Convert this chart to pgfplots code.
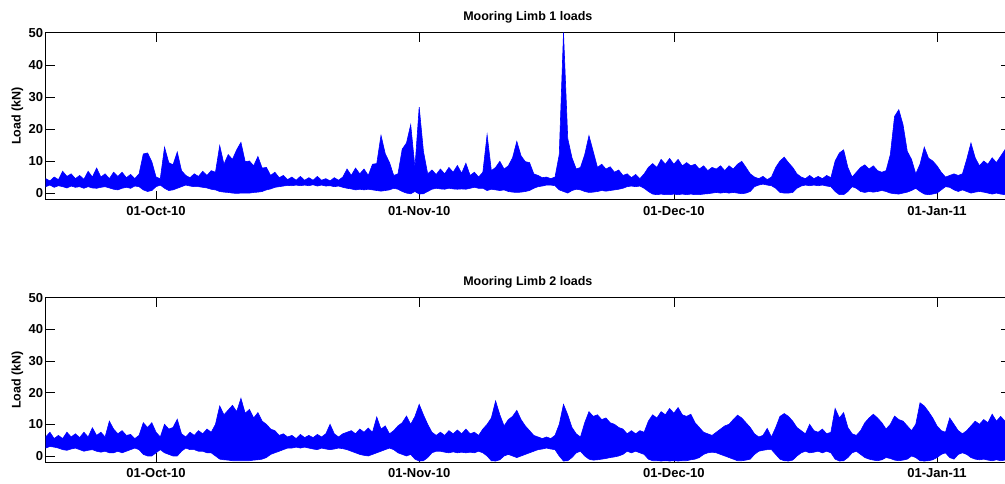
\documentclass[border=0pt]{standalone}
\usepackage{fontspec}
\setmainfont{Liberation Sans}
\usepackage{pgfplots}
\pgfplotsset{compat=1.18}
\usepackage{pgfplotstable}
\usepgfplotslibrary{fillbetween}

\definecolor{matblue}{RGB}{0,0,255}

% days from 01-Oct-10, lower and upper load envelope (kN), limb 1
\pgfplotstableread{
t lo hi
-13 2.0 4.5
-12.5 2.5 3.8
-12 1.8 5.0
-11.5 2.3 4.2
-11 2.0 6.8
-10.5 1.6 5.2
-10 2.2 6.0
-9.5 1.8 4.5
-9 2.0 5.5
-8.5 1.5 4.3
-8 2.0 6.8
-7.5 1.6 5.0
-7 1.5 7.8
-6.5 1.8 5.0
-6 2.0 6.0
-5.5 1.6 4.5
-5 1.2 6.5
-4.5 1.0 5.2
-4 1.5 6.5
-3.5 1.8 4.8
-3 1.5 5.8
-2.5 2.2 4.5
-2 2.0 6.0
-1.5 1.0 12.2
-1 0.5 12.5
-0.5 0.8 9.8
0 2.0 5.0
0.5 2.5 4.5
1 1.5 14.3
1.5 0.8 9.5
2 1.0 8.8
2.5 1.5 12.8
3 2.0 7.0
3.5 2.5 5.5
4 2.2 4.8
4.5 2.0 6.0
5 2.0 5.2
5.5 1.8 6.8
6 1.6 5.5
6.5 1.2 7.0
7 1.0 6.5
7.5 0.5 14.8
8 0.3 9.0
8.5 0.2 12.0
9 0.0 10.5
9.5 -0.1 13.5
10 0.0 15.8
10.5 0.0 9.8
11 0.0 10.0
11.5 0.2 8.5
12 0.3 11.4
12.5 0.5 7.8
13 1.0 8.0
13.5 1.3 5.5
14 1.8 6.5
14.5 2.0 4.8
15 2.2 5.5
15.5 2.4 4.2
16 2.3 5.0
16.5 2.5 4.0
17 2.3 5.2
17.5 2.5 4.0
18 2.3 4.8
18.5 2.6 4.0
19 2.2 5.2
19.5 2.5 4.0
20 2.2 4.5
20.5 2.3 3.8
21 2.0 4.8
21.5 2.2 4.0
22 1.8 5.0
22.5 1.5 7.5
23 1.3 5.5
23.5 1.0 7.8
24 1.2 6.0
24.5 1.0 7.5
25 1.2 5.5
25.5 1.0 9.0
26 0.8 9.2
26.5 0.6 18.0
27 0.8 12.3
27.5 1.0 9.5
28 1.5 5.5
28.5 1.2 6.0
29 0.5 13.7
29.5 0.0 15.6
30 -0.2 21.3
30.5 0.5 8.0
31 -0.3 26.8
31.5 -0.2 13.0
32 0.5 6.0
32.5 1.2 7.2
33 1.5 5.8
33.5 1.3 7.5
34 1.2 6.0
34.5 1.5 8.0
35 1.3 6.5
35.5 1.2 8.6
36 1.3 6.2
36.5 1.2 9.3
37 1.5 5.5
37.5 1.8 6.5
38 1.5 5.0
38.5 1.5 6.5
39 0.8 18.2
39.5 1.2 7.0
40 1.0 8.0
40.5 0.8 9.9
41 1.0 7.5
41.5 0.5 8.5
42 0.3 11.0
42.5 0.2 16.1
43 0.3 11.6
43.5 0.5 9.8
44 0.8 9.5
44.5 1.5 6.0
45 2.0 5.5
45.5 2.2 4.8
46 2.5 5.0
46.5 2.5 4.5
47 2.3 5.0
47.5 1.0 12.0
48 0.5 50
48.5 0.0 17.0
49 0.8 11.0
49.5 1.2 7.5
50 1.0 8.0
50.5 0.5 12.0
51 0.2 17.9
51.5 0.3 13.0
52 0.5 8.0
52.5 0.8 9.0
53 0.6 7.5
53.5 0.8 8.2
54 1.0 6.5
54.5 1.2 7.2
55 1.5 5.5
55.5 2.0 6.0
56 2.2 4.8
56.5 2.0 5.8
57 2.2 4.5
57.5 1.5 6.0
58 0.5 8.0
58.5 -0.3 9.2
59 -0.5 8.0
59.5 -0.3 10.5
60 -0.5 9.0
60.5 -0.5 10.8
61 -0.3 9.0
61.5 -0.5 10.5
62 -0.3 8.5
62.5 -0.5 9.5
63 -0.3 8.5
63.5 -0.5 9.0
64 -0.5 7.5
64.5 -0.3 8.5
65 -0.2 7.0
65.5 0.0 8.0
66 0.2 7.5
66.5 0.0 8.5
67 0.2 7.0
67.5 0.0 8.5
68 0.2 7.5
68.5 0.0 9.0
69 -0.2 9.9
69.5 0.0 8.0
70 0.5 6.0
70.5 2.0 5.0
71 2.5 4.5
71.5 2.8 5.2
72 2.5 4.2
72.5 2.3 5.0
73 1.5 8.0
73.5 0.2 10.0
74 0.0 11.2
74.5 0.0 9.5
75 0.2 8.0
75.5 1.5 6.0
76 2.2 5.0
76.5 2.5 4.5
77 2.3 5.5
77.5 2.5 4.5
78 2.3 5.2
78.5 2.5 4.5
79 2.2 5.5
79.5 2.0 4.8
80 0.5 10.0
80.5 -0.5 12.5
81 -0.5 13.5
81.5 0.5 8.0
82 2.0 5.0
82.5 1.5 6.5
83 0.5 8.0
83.5 0.2 8.8
84 0.5 7.5
84.5 0.3 8.5
85 0.5 7.0
85.5 0.8 6.5
86 0.5 7.0
86.5 0.0 12.0
87 -0.2 23.9
87.5 -0.3 26.0
88 0.0 21.3
88.5 0.3 13.0
89 0.8 10.5
89.5 1.5 6.0
90 0.5 9.0
90.5 -0.3 14.3
91 -0.5 10.9
91.5 -0.3 10.0
92 0.0 8.5
92.5 1.0 6.5
93 2.0 5.0
93.5 1.8 5.5
94 1.0 6.0
94.5 0.5 5.5
95 1.0 6.0
95.5 0.5 10.5
96 0.0 15.6
96.5 0.3 11.0
97 0.5 8.5
97.5 0.3 10.0
98 0.0 9.0
98.5 -0.3 11.0
99 0.0 9.5
99.5 -0.3 11.5
100 -0.5 13.5
100.6 -0.3 10.0
}\limbA

% limb 2
\pgfplotstableread{
t lo hi
-13 2.5 6.0
-12.5 3.0 7.5
-12 2.8 5.5
-11.5 2.5 6.5
-11 2.0 5.5
-10.5 1.8 7.5
-10 2.2 6.0
-9.5 2.5 7.0
-9 2.0 5.8
-8.5 1.5 7.5
-8 1.8 6.0
-7.5 2.0 8.9
-7 1.5 6.5
-6.5 1.2 7.5
-6 1.5 6.0
-5.5 1.0 11.0
-5 1.0 8.5
-4.5 1.5 7.0
-4 1.0 8.0
-3.5 1.5 6.5
-3 2.0 6.8
-2.5 2.5 5.5
-2 2.0 6.5
-1.5 0.5 10.5
-1 0.0 9.0
-0.5 0.0 10.5
0 1.0 7.5
0.5 2.0 6.0
1 1.0 10.0
1.5 0.5 8.5
2 0.0 9.0
2.5 0.0 11.6
3 1.5 7.0
3.5 2.5 6.0
4 2.0 7.5
4.5 2.0 6.5
5 1.5 8.0
5.5 1.5 7.0
6 1.0 8.5
6.5 1.0 7.5
7 0.0 10.0
7.5 -1.0 15.8
8 -1.2 13.0
8.5 -1.3 14.5
9 -1.5 16.0
9.5 -1.5 14.0
10 -1.5 18.2
10.5 -1.5 13.5
11 -1.5 14.7
11.5 -1.3 12.0
12 -1.2 13.7
12.5 -1.0 11.0
13 -0.5 10.0
13.5 0.5 8.5
14 1.0 8.0
14.5 1.5 6.5
15 2.0 7.0
15.5 2.5 6.0
16 2.5 6.5
16.5 2.8 5.5
17 2.5 6.8
17.5 2.8 5.8
18 2.5 6.5
18.5 2.2 5.8
19 2.0 6.8
19.5 2.5 6.0
20 2.2 7.0
20.5 2.0 10.0
21 2.2 7.0
21.5 2.5 6.0
22 2.3 7.0
22.5 2.0 7.5
23 1.5 8.0
23.5 1.0 7.0
24 0.5 8.5
24.5 0.2 7.5
25 0.0 8.8
25.5 0.5 7.5
26 1.0 12.3
26.5 1.5 8.5
27 2.0 9.5
27.5 2.5 7.0
28 2.0 8.0
28.5 1.0 9.5
29 0.5 10.5
29.5 0.0 12.6
30 0.5 10.0
30.5 -1.0 12.5
31 -1.6 16.3
31.5 -1.5 13.0
32 -0.5 10.0
32.5 1.0 7.5
33 1.5 6.5
33.5 1.5 7.5
34 1.2 6.5
34.5 1.0 8.0
35 1.3 7.0
35.5 1.0 8.2
36 1.2 7.0
36.5 1.0 8.5
37 1.2 7.0
37.5 1.0 7.5
38 1.5 6.5
38.5 1.0 8.5
39 0.0 10.0
39.5 -1.5 12.0
40 -1.6 17.4
40.5 -1.2 13.0
41 0.0 9.5
41.5 0.5 11.5
42 0.0 12.5
42.5 -0.5 14.4
43 0.0 11.5
43.5 0.5 9.5
44 1.0 8.0
44.5 1.5 6.5
45 2.0 6.0
45.5 2.2 5.5
46 2.5 6.0
46.5 2.2 5.5
47 2.0 6.5
47.5 0.0 10.0
48 -1.6 16.3
48.5 -1.5 13.0
49 -0.5 9.0
49.5 1.0 7.0
50 1.5 6.0
50.5 0.0 10.5
51 -1.0 14.0
51.5 -1.3 12.5
52 -1.2 13.0
52.5 -1.0 11.5
53 -0.8 12.0
53.5 -0.5 10.5
54 -0.3 10.0
54.5 0.0 9.0
55 0.5 8.5
55.5 1.5 7.0
56 1.0 8.0
56.5 1.5 7.0
57 1.0 8.0
57.5 0.5 7.5
58 -1.0 11.0
58.5 -1.5 13.0
59 -1.5 12.0
59.5 -1.6 14.0
60 -1.5 13.0
60.5 -1.6 15.0
61 -1.5 13.5
61.5 -1.6 15.3
62 -1.5 13.0
62.5 -1.5 12.5
63 -1.2 13.2
63.5 -1.0 10.5
64 -0.5 9.0
64.5 0.5 7.5
65 1.0 7.0
65.5 1.2 6.5
66 1.0 7.5
66.5 0.5 8.5
67 0.0 9.5
67.5 -0.5 10.0
68 -1.0 11.5
68.5 -1.5 12.9
69 -1.5 12.0
69.5 -1.3 10.5
70 -1.0 9.0
70.5 0.5 7.0
71 1.5 6.0
71.5 1.8 6.5
72 2.0 8.7
72.5 2.0 6.0
73 0.5 9.0
73.5 -1.0 12.5
74 -1.5 13.4
74.5 -1.6 12.5
75 -1.3 11.0
75.5 0.0 9.0
76 1.0 8.0
76.5 1.5 7.0
77 1.0 10.0
77.5 1.2 8.0
78 1.5 7.5
78.5 1.0 8.5
79 1.5 7.0
79.5 1.0 7.5
80 -1.0 15.0
80.5 -1.6 12.0
81 -1.5 13.7
81.5 -0.5 9.0
82 1.0 7.0
82.5 1.5 6.5
83 0.5 8.0
83.5 -0.5 10.5
84 -1.0 12.0
84.5 -1.3 13.2
85 -1.5 12.0
85.5 -1.2 10.5
86 -0.5 8.5
86.5 -0.8 10.0
87 -1.3 12.6
87.5 -1.5 11.5
88 -1.3 11.0
88.5 -1.0 9.5
89 0.0 8.0
89.5 -0.5 10.0
90 -1.5 16.8
90.5 -1.6 15.8
91 -1.5 14.0
91.5 -1.2 12.0
92 -0.5 9.5
92.5 0.5 8.0
93 1.0 7.5
93.5 -0.5 12.0
94 -1.0 10.0
94.5 0.5 8.0
95 1.0 7.0
95.5 0.5 8.0
96 -0.5 9.5
96.5 -1.0 11.0
97 -1.2 10.0
97.5 -1.0 11.5
98 -1.3 10.5
98.5 -1.5 13.2
99 -1.2 11.0
99.5 -1.5 12.5
100 -1.3 11.0
100.6 -1.5 12.0
}\limbB

\pgfplotsset{
  limb/.style={
    scale only axis,
    width=964.3pt,
    xmin=-13, xmax=100.6,
    ymin=-2, ymax=50,
    xtick={0,31,61,92},
    xticklabels={01-Oct-10,01-Nov-10,01-Dec-10,01-Jan-11},
    ytick={0,10,20,30,40,50},
    tick align=inside,
    tick pos=both,
    major tick length=9pt,
    tick style={black, line width=0.5pt},
    axis line style={black, line width=0.8pt},
    /pgf/number format/assume math mode=true,
    ticklabel style={font=\fontsize{13}{15}\selectfont\bfseries},
    xticklabel style={anchor=base, yshift=-15.5pt},
    yticklabel style={anchor=east, inner sep=0pt, xshift=-2.4pt},
    ylabel={Load (kN)},
    every axis y label/.style={at={(axis description cs:-0.0261,0.5)},
      anchor=base, rotate=90, font=\fontsize{12.5}{14}\selectfont\bfseries},
    every axis title/.style={at={(0.5,1)}, anchor=base, yshift=12.5pt,
      font=\fontsize{12.5}{14}\selectfont\bfseries},
  },
}

\begin{document}
\begin{tikzpicture}

\begin{axis}[limb, height=166.8pt, at={(45.7pt,-199.5pt)}, anchor=south west,
  title={Mooring Limb 1 loads}]
\addplot[name path=hiA, matblue, line width=0.6pt] table[x=t, y=hi] {\limbA};
\addplot[name path=loA, matblue, line width=0.6pt] table[x=t, y=lo] {\limbA};
\addplot[matblue] fill between[of=hiA and loA];
\end{axis}

\begin{axis}[limb, height=164.6pt, at={(45.7pt,-462.3pt)}, anchor=south west,
  title={Mooring Limb 2 loads}]
\addplot[name path=hiB, matblue, line width=0.6pt] table[x=t, y=hi] {\limbB};
\addplot[name path=loB, matblue, line width=0.6pt] table[x=t, y=lo] {\limbB};
\addplot[matblue] fill between[of=hiB and loB];
\end{axis}

\pgfresetboundingbox
\path[use as bounding box] (0,0) rectangle (1005pt,-483pt);
\end{tikzpicture}
\end{document}
